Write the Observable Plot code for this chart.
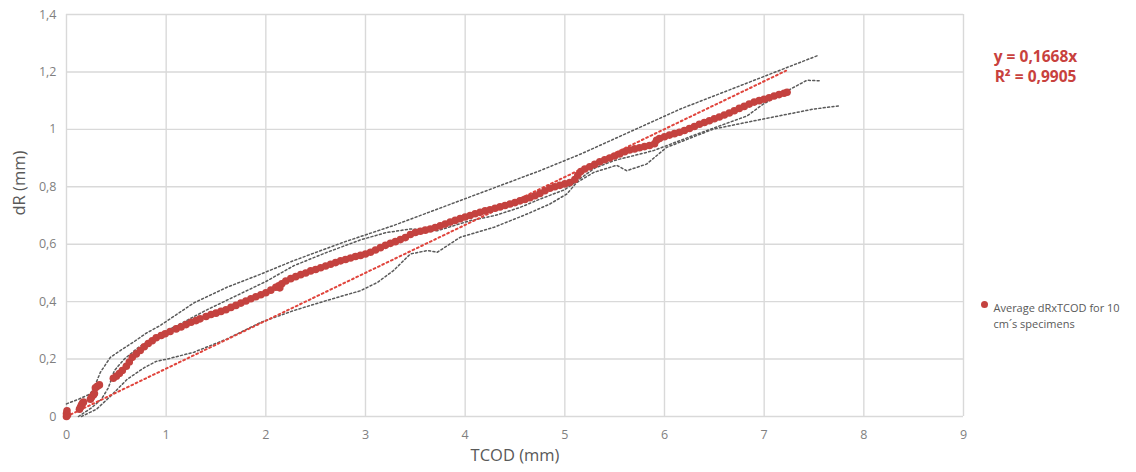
<!DOCTYPE html>
<html>
<head>
<meta charset="utf-8">
<script src="https://cdn.jsdelivr.net/npm/d3@7"></script>
<script src="https://cdn.jsdelivr.net/npm/@observablehq/plot@0.6"></script>
<style>
  html, body { margin: 0; padding: 0; background: #fff; }
  #chart { width: 1136px; height: 472px; }
</style>
</head>
<body>
<div id="chart"></div>
<script>
// ---- data ----
const xTicks = [0, 1, 2, 3, 4, 5, 6, 7, 8, 9];
const yTicks = [0, 0.2, 0.4, 0.6, 0.8, 1, 1.2, 1.4];
const xLabel = "TCOD (mm)";
const yLabel = "dR (mm)";
const seriesName = ["Average dRxTCOD for 10", "cm´s specimens"];
const equationText = ["y = 0,1668x", "R² = 0,9905"];
const slope = 0.1668;
const trendX = [0, 7.22];

// average series (x = TCOD, y = dR)
const avgX = [0,0,0.005,0.01,0.13,0.14,0.15,0.16,0.17,0.24,0.25,0.27,0.28,0.29,0.31,0.33,
0.47,0.5,0.53,0.56,0.6,0.63,0.66,0.7,0.74,0.78,0.82,0.86,0.9,0.95,0.99,1.04,1.1,1.15,1.2,1.25,1.3,1.34,1.4,1.45,1.5,1.55,1.6,1.65,1.7,1.75,1.8,1.85,1.9,1.95,2.0,2.05,2.1,2.13,2.14,2.16,2.2,2.25,2.3,2.35,2.4,2.45,2.5,2.55,2.6,2.65,2.7,2.75,2.8,2.85,2.9,2.95,3.0,3.05,3.1,3.15,3.2,3.25,3.3,3.35,3.4,3.45,3.5,3.55,3.6,3.65,3.7,3.75,3.8,3.85,3.9,3.95,4.0,4.05,4.1,4.15,4.2,4.25,4.3,4.35,4.4,4.45,4.5,4.55,4.6,4.65,4.7,4.75,4.8,4.85,4.9,4.95,5.0,5.05,5.1,5.13,5.16,5.2,5.25,5.3,5.35,5.4,5.45,5.5,5.55,5.6,5.65,5.7,5.75,5.8,5.85,5.9,5.92,5.95,6.0,6.05,6.1,6.15,6.2,6.25,6.3,6.35,6.4,6.45,6.5,6.55,6.6,6.65,6.7,6.75,6.8,6.85,6.9,6.95,7.0,7.05,7.1,7.15,7.2,7.23];
const avgY = [0,0.01,0.02,0.005,0.025,0.032,0.04,0.046,0.05,0.06,0.067,0.075,0.08,0.1,0.105,0.11,
0.133,0.14,0.15,0.16,0.175,0.19,0.206,0.218,0.23,0.243,0.254,0.264,0.274,0.282,0.288,0.296,0.305,0.312,0.32,0.328,0.334,0.34,0.348,0.355,0.36,0.366,0.372,0.38,0.387,0.395,0.402,0.41,0.417,0.424,0.431,0.44,0.45,0.455,0.448,0.462,0.472,0.48,0.487,0.494,0.5,0.507,0.512,0.518,0.524,0.53,0.536,0.542,0.547,0.552,0.557,0.561,0.566,0.572,0.58,0.588,0.596,0.603,0.609,0.616,0.623,0.634,0.641,0.645,0.649,0.653,0.658,0.664,0.67,0.677,0.683,0.689,0.695,0.7,0.706,0.711,0.716,0.72,0.725,0.73,0.735,0.74,0.745,0.751,0.756,0.762,0.769,0.777,0.786,0.795,0.8,0.805,0.81,0.815,0.825,0.84,0.853,0.862,0.87,0.878,0.887,0.894,0.9,0.907,0.914,0.922,0.928,0.932,0.936,0.94,0.944,0.95,0.962,0.968,0.974,0.98,0.985,0.99,0.996,1.003,1.01,1.018,1.024,1.03,1.037,1.043,1.05,1.057,1.065,1.073,1.08,1.088,1.095,1.1,1.105,1.11,1.116,1.121,1.126,1.129];

// individual specimen curves (grey dotted)
const spec1 = [[0,0.044],[0.12,0.06],[0.24,0.079],[0.3,0.12],[0.34,0.154],[0.44,0.206],[0.55,0.232],[0.675,0.26],[0.8,0.29],[0.94,0.317],[1.28,0.396],[1.61,0.45],[1.95,0.496],[2.28,0.543],[2.78,0.607],[3.28,0.665],[3.95,0.752],[4.75,0.856],[5.16,0.914],[6.16,1.071],[7.53,1.256]];
const spec2 = [[0.12,0.0],[0.25,0.03],[0.35,0.06],[0.42,0.1],[0.48,0.16],[0.58,0.2],[0.72,0.24],[0.9,0.28],[1.1,0.315],[1.4,0.37],[1.7,0.42],[2.0,0.47],[2.28,0.525],[2.6,0.57],[2.95,0.615],[3.2,0.64],[3.45,0.653],[3.72,0.647],[4.05,0.682],[4.3,0.7],[4.55,0.728],[4.75,0.757],[5.0,0.79],[5.16,0.83],[5.3,0.865],[5.49,0.891],[5.89,0.926],[6.33,0.984],[6.83,1.047],[6.99,1.088],[7.23,1.134],[7.43,1.171],[7.56,1.169]];
const spec3 = [[0.15,0.0],[0.3,0.025],[0.44,0.07],[0.61,0.13],[0.78,0.17],[0.9,0.192],[1.01,0.2],[1.28,0.224],[1.61,0.27],[1.95,0.328],[2.28,0.369],[2.61,0.404],[2.95,0.438],[3.12,0.467],[3.28,0.508],[3.45,0.566],[3.62,0.578],[3.72,0.572],[3.95,0.624],[4.29,0.659],[4.62,0.705],[4.85,0.74],[5.02,0.775],[5.12,0.815],[5.29,0.85],[5.52,0.875],[5.62,0.856],[5.82,0.879],[6.02,0.937],[6.49,1.001],[6.99,1.036],[7.5,1.071],[7.76,1.082]];

// ---- build ----
const avg = avgX.map((x, i) => ({x, y: avgY[i]}));
const trend = trendX.map(x => ({x, y: slope * x}));
const specs = [spec1, spec2, spec3];
const comma = d => String(d).replace(".", ",");
const red = "#c4423f";
const font = "'Open Sans', 'Noto Sans', sans-serif";

const chart = Plot.plot({
  width: 1136,
  height: 472,
  marginLeft: 66,
  marginRight: 173,
  marginTop: 14,
  marginBottom: 56,
  style: {fontFamily: font, background: "#fff", overflow: "visible"},
  x: {domain: [0, 9], ticks: xTicks},
  y: {domain: [0, 1.4], ticks: yTicks},
  marks: [
    Plot.ruleX(xTicks, {x: d => d, stroke: "#d9d9d9", strokeWidth: 1.4}),
    Plot.ruleY(yTicks, {y: d => d, stroke: "#d9d9d9", strokeWidth: 1.4}),
    Plot.axisX({ticks: xTicks, tickSize: 0, tickPadding: 14, fontSize: 12.5, color: "#7f7f7f", label: null, tickFormat: comma}),
    Plot.axisY({ticks: yTicks, tickSize: 0, tickPadding: 10, fontSize: 12.5, color: "#7f7f7f", label: null, tickFormat: comma}),
    ...specs.map(s => Plot.line(s, {x: d => d[0], y: d => d[1], stroke: "#5a5a5a", strokeWidth: 1.5, strokeDasharray: "2,2.4", curve: "linear"})),
    Plot.line(trend, {x: "x", y: "y", stroke: "#e0443c", strokeWidth: 2, strokeDasharray: "1.8,3"}),
    Plot.dot(avg, {x: "x", y: "y", r: 3.8, fill: red, stroke: "none"}),
    Plot.text([xLabel], {frameAnchor: "bottom", dy: 44, fontSize: 16.5, fill: "#595959"}),
    Plot.text([yLabel], {frameAnchor: "left", dx: -47, rotate: -90, fontSize: 16.5, fill: "#595959"}),
    Plot.text([equationText[0]], {frameAnchor: "top-right", dx: 72, dy: 36, textAnchor: "middle", fontSize: 15.5, fontWeight: "bold", fill: "#c8413d"}),
    Plot.text([equationText[1]], {frameAnchor: "top-right", dx: 72, dy: 56, textAnchor: "middle", fontSize: 15.5, fontWeight: "bold", fill: "#c8413d"}),
    Plot.dot([0], {frameAnchor: "top-right", dx: 21, dy: 290, r: 3.5, fill: red}),
    Plot.text([seriesName[0]], {frameAnchor: "top-right", dx: 30, dy: 290, textAnchor: "start", fontSize: 11, fill: "#595959"}),
    Plot.text([seriesName[1]], {frameAnchor: "top-right", dx: 30, dy: 306, textAnchor: "start", fontSize: 11, fill: "#595959"})
  ]
});
document.getElementById("chart").appendChild(chart);
</script>
</body>
</html>
